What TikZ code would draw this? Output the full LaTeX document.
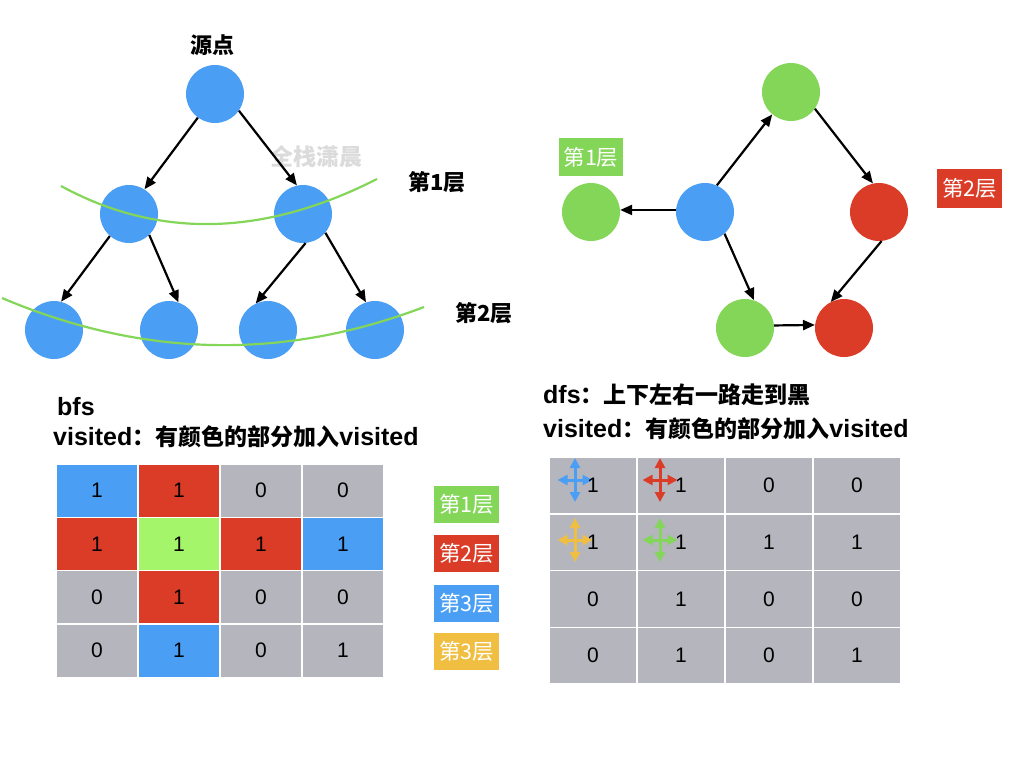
\documentclass[tikz,border=0pt]{standalone}
\usepackage{fontspec}
\setmainfont{Liberation Sans}
\newfontfamily\cjk{Noto Sans CJK SC}
\usetikzlibrary{arrows.meta}
\definecolor{cblue}{RGB}{74,159,245}
\definecolor{cgreen}{RGB}{131,214,88}
\definecolor{cred}{RGB}{218,60,40}
\definecolor{clgreen}{RGB}{165,245,106}
\definecolor{cgray}{RGB}{181,181,190}
\definecolor{cyellow}{RGB}{240,190,65}
\begin{document}
\begin{tikzpicture}[x=1pt,y=-1pt,
  dot/.style={circle,inner sep=0pt,minimum size=58pt},
  conn/.style={-{Triangle[length=12pt,width=10pt]},line width=2.2pt,black},
  layer/.style={cgreen,line width=2.2pt},
  lbl/.style={inner sep=0pt,font=\cjk\bfseries\fontsize{22}{26}\selectfont},
  tag/.style={inner sep=0pt,text=white,font=\cjk\fontsize{21.5}{24}\selectfont},
  bcell/.style={draw=white,line width=1.5pt,inner sep=0pt,minimum width=82pt,minimum height=53.3pt,font=\fontsize{21}{24}\selectfont},
  dcell/.style={draw=white,line width=1.5pt,fill=cgray,inner sep=0pt,minimum width=88pt,minimum height=56.75pt},
  num/.style={inner sep=0pt,font=\fontsize{21}{24}\selectfont},
  cross/.style={{Triangle[length=10pt,width=10pt]}-{Triangle[length=10pt,width=10pt]},line width=3pt}
]
\useasboundingbox (0,0) rectangle (1024,768);
\fill[white] (0,0) rectangle (1024,768);

% ---------- BFS tree ----------
\node[lbl] (srclbl) at (212,45) {源点};
\node[dot,fill=cblue] (root) at (215,94) {};
\node[dot,fill=cblue] (la) at (129,214) {};
\node[dot,fill=cblue] (lb) at (303,214) {};
\node[dot,fill=cblue] (ma) at (54,330) {};
\node[dot,fill=cblue] (mb) at (169,330) {};
\node[dot,fill=cblue] (mc) at (268,330) {};
\node[dot,fill=cblue] (md) at (375,330) {};

\node[inner sep=0pt,text=gray!28,font=\cjk\bfseries\fontsize{23}{26}\selectfont] (wm) at (316,157) {全栈潇晨};

\draw[layer] (61,186) .. controls (158.3,239) and (263.7,236.7) .. (377,179);
\draw[layer] (2,298) .. controls (142.7,357.7) and (283.3,360.7) .. (424,307);

\draw[conn] (root.-126) -- (la.58);
\draw[conn] (root.-35) -- (lb.102);
\draw[conn] (la.-131) -- (ma.76);
\draw[conn] (la.-46) -- (mb.71);
\draw[conn] (lb.-85) -- (mc.115);
\draw[conn] (lb.-40) -- (md.108);

\node[lbl] (l1lbl) at (437,182) {第1层};
\node[lbl] (l2lbl) at (484,313) {第2层};

% ---------- DFS graph ----------
\node[dot,fill=cgreen] (top) at (791,92) {};
\node[dot,fill=cgreen] (lft) at (591,212) {};
\node[dot,fill=cblue] (ctr) at (705,212) {};
\node[dot,fill=cred] (rgt) at (879,212) {};
\node[dot,fill=cgreen] (bg) at (745,328) {};
\node[dot,fill=cred] (br) at (844,328) {};

\draw[conn] (ctr.176) -- (lft.4);
\draw[conn] (ctr.66) -- (top.-130);
\draw[conn] (top.-35) -- (rgt.102);
\draw[conn] (rgt.-85) -- (br.117);
\draw[conn] (ctr.-48) -- (bg.72);
\draw[conn] (bg.5) -- (br.174);

\node[tag,fill=cgreen,minimum width=64pt,minimum height=38pt] (t1) at (591,157) {第1层};
\node[tag,fill=cred,minimum width=65pt,minimum height=39pt] (t2) at (969.5,188.5) {第2层};

% ---------- texts ----------
\node[anchor=west,inner sep=0pt,font=\bfseries\fontsize{25}{28}\selectfont] (bfst) at (57,407) {bfs};
\node[anchor=west,inner sep=0pt,font=\bfseries\fontsize{25}{28}\selectfont] (bvis) at (53,437) {visited{\cjk\fontsize{23}{28}\selectfont ：有颜色的部分加入}visited};
\node[anchor=west,inner sep=0pt,font=\bfseries\fontsize{25}{28}\selectfont] (dfst) at (543,395) {dfs{\cjk\fontsize{23}{28}\selectfont ：上下左右一路走到黑}};
\node[anchor=west,inner sep=0pt,font=\bfseries\fontsize{25}{28}\selectfont] (dvis) at (543,429) {visited{\cjk\fontsize{23}{28}\selectfont ：有颜色的部分加入}visited};

% ---------- BFS grid ----------
\foreach \rowlist [count=\r from 0] in {{cblue/1,cred/1,cgray/0,cgray/0},{cred/1,clgreen/1,cred/1,cblue/1},{cgray/0,cred/1,cgray/0,cgray/0},{cgray/0,cblue/1,cgray/0,cgray/1}}{
  \foreach \cc/\vv [count=\c from 0] in \rowlist {
    \node[bcell,fill=\cc] (b-\r-\c) at ({97+82*\c},{490.7+53.3*\r}) {\vv};
  }
}

% legend
\node[tag,fill=cgreen,minimum width=65pt,minimum height=37pt] (g1) at (466.5,504.5) {第1层};
\node[tag,fill=cred,minimum width=65pt,minimum height=37pt] (g2) at (466.5,553.5) {第2层};
\node[tag,fill=cblue,minimum width=65pt,minimum height=37pt] (g3) at (466.5,603) {第3层};
\node[tag,fill=cyellow,minimum width=65pt,minimum height=37pt] (g4) at (466.5,651.5) {第3层};

% ---------- DFS grid ----------
\foreach \r in {0,...,3}{
  \foreach \c in {0,...,3}{
    \node[dcell] (d-\r-\c) at ({593+88*\c},{485.4+56.75*\r}) {};
  }
}
\foreach \cx/\cy/\cc in {575/480/cblue,660/480/cred,575/540/cyellow,660/540/cgreen}{
  \draw[cross,\cc] ({\cx-17.5},\cy) -- ({\cx+17.5},\cy);
  \draw[cross,\cc] (\cx,{\cy-22}) -- (\cx,{\cy+22});
}
\foreach \rowlist [count=\r from 0] in {{1,1,0,0},{1,1,1,1},{0,1,0,0},{0,1,0,1}}{
  \foreach \vv [count=\c from 0] in \rowlist {
    \node[num] at (d-\r-\c) {\vv};
  }
}
\end{tikzpicture}
\end{document}
